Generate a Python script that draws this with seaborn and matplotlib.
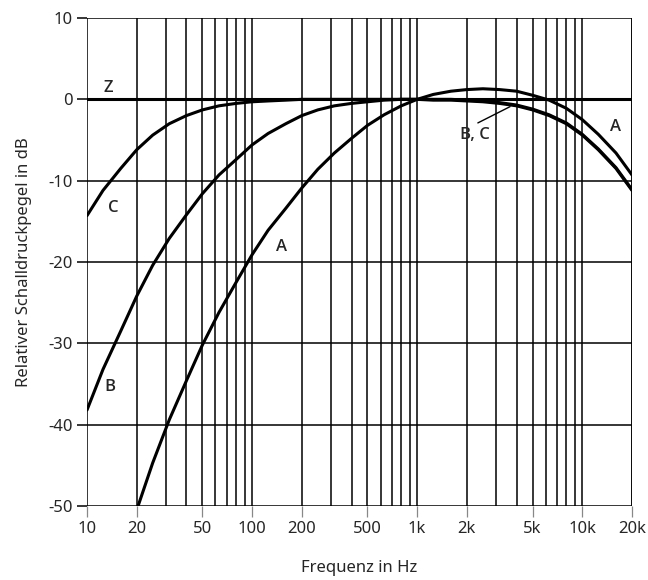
import numpy as np
import pandas as pd
import matplotlib
matplotlib.use("Agg")
import matplotlib.pyplot as plt
import seaborn as sns
from matplotlib.ticker import FixedLocator, NullFormatter

freqs = [10, 12.5, 16, 20, 25, 31.5, 40, 50, 63, 80, 100, 125, 160, 200, 250, 315,
         400, 500, 630, 800, 1000, 1250, 1600, 2000, 2500, 3150, 4000, 5000, 6300,
         8000, 10000, 12500, 16000, 20000]
a_db = [-70.4, -63.4, -56.7, -50.5, -44.7, -39.4, -34.6, -30.2, -26.2, -22.5, -19.1,
        -16.1, -13.4, -10.9, -8.6, -6.6, -4.8, -3.2, -1.9, -0.8, 0.0, 0.6, 1.0, 1.2,
        1.3, 1.2, 1.0, 0.5, -0.1, -1.1, -2.5, -4.3, -6.6, -9.3]
b_db = [-38.2, -33.2, -28.5, -24.2, -20.4, -17.1, -14.2, -11.6, -9.3, -7.4, -5.6,
        -4.2, -3.0, -2.0, -1.3, -0.8, -0.5, -0.3, -0.1, 0.0, 0.0, 0.0, 0.0, -0.1,
        -0.2, -0.4, -0.7, -1.2, -1.9, -2.9, -4.3, -6.1, -8.4, -11.1]
c_db = [-14.3, -11.2, -8.5, -6.2, -4.4, -3.0, -2.0, -1.3, -0.8, -0.5, -0.3, -0.2,
        -0.1, 0.0, 0.0, 0.0, 0.0, 0.0, 0.0, 0.0, 0.0, -0.1, -0.1, -0.2, -0.3, -0.5,
        -0.8, -1.3, -2.0, -3.0, -4.4, -6.2, -8.5, -11.2]
z_db = [0.0] * len(freqs)

major_ticks = [10, 20, 50, 100, 200, 500, 1000, 2000, 5000, 10000, 20000]
major_labels = ["10", "20", "50", "100", "200", "500", "1k", "2k", "5k", "10k", "20k"]
y_ticks = [10, 0, -10, -20, -30, -40, -50]

sns.set_style("white")
plt.rcParams["font.family"] = ["Noto Sans", "DejaVu Sans"]

df = pd.DataFrame({
    "f": freqs * 4,
    "dB": a_db + b_db + c_db + z_db,
    "curve": ["A"] * len(freqs) + ["B"] * len(freqs) + ["C"] * len(freqs) + ["Z"] * len(freqs),
})

fig = plt.figure(figsize=(6.48, 5.8), dpi=100)
ax = fig.add_axes([87 / 648, 1 - 506 / 580, (632 - 87) / 648, (506 - 18) / 580])

grid_x = []
for dec in [10, 100, 1000, 10000]:
    for m in range(1, 10):
        v = dec * m
        if v <= 20000:
            grid_x.append(v)
grid_x.append(20000)

sns.lineplot(data=df, x="f", y="dB", hue="curve", palette=["black"] * 4,
             linewidth=2.2, legend=False, ax=ax, zorder=3, sort=True)
for ln in ax.lines:
    ln.set_solid_joinstyle("round")
    ln.set_solid_capstyle("round")

ax.set_xscale("log")
ax.set_xlim(10, 20000)
ax.set_ylim(-50, 10)
for gx in grid_x:
    ax.axvline(gx, color="black", linewidth=1.1, zorder=1)
for gy in y_ticks:
    ax.axhline(gy, color="black", linewidth=1.1, zorder=1)

ax.xaxis.set_major_locator(FixedLocator(major_ticks))
ax.set_xticklabels(major_labels)
ax.xaxis.set_minor_locator(FixedLocator([]))
ax.xaxis.set_minor_formatter(NullFormatter())
ax.set_yticks(y_ticks)
ax.set_yticklabels([str(t) for t in y_ticks])
ax.tick_params(axis="x", which="major", length=8, width=0.9, color="#888888",
               labelsize=12, pad=3, direction="out", bottom=True)
ax.tick_params(axis="y", which="major", length=7, width=1.1, color="black",
               labelsize=12, pad=3, direction="out", left=True)
for s in ax.spines.values():
    s.set_visible(False)

ax.set_xlabel("Frequenz in Hz", fontsize=12, labelpad=16)
ax.set_ylabel("Relativer Schalldruckpegel in dB", fontsize=12, labelpad=12)

lab = dict(fontsize=12, fontweight="semibold", ha="center", va="center", zorder=5,
           family=["Open Sans", "DejaVu Sans"])
ax.text(13.4, 1.4, "Z", **lab)
ax.text(14.4, -13.3, "C", **lab)
ax.text(13.8, -35.4, "B", **lab)
ax.text(150, -18.2, "A", **lab)
ax.text(15800, -3.4, "A", **lab)
ax.text(2250, -4.4, "B, C", **lab)
ax.plot([2330, 3650], [-2.9, -0.9], color="black", linewidth=1.0, zorder=4)

fig.savefig("out.png", dpi=100)
